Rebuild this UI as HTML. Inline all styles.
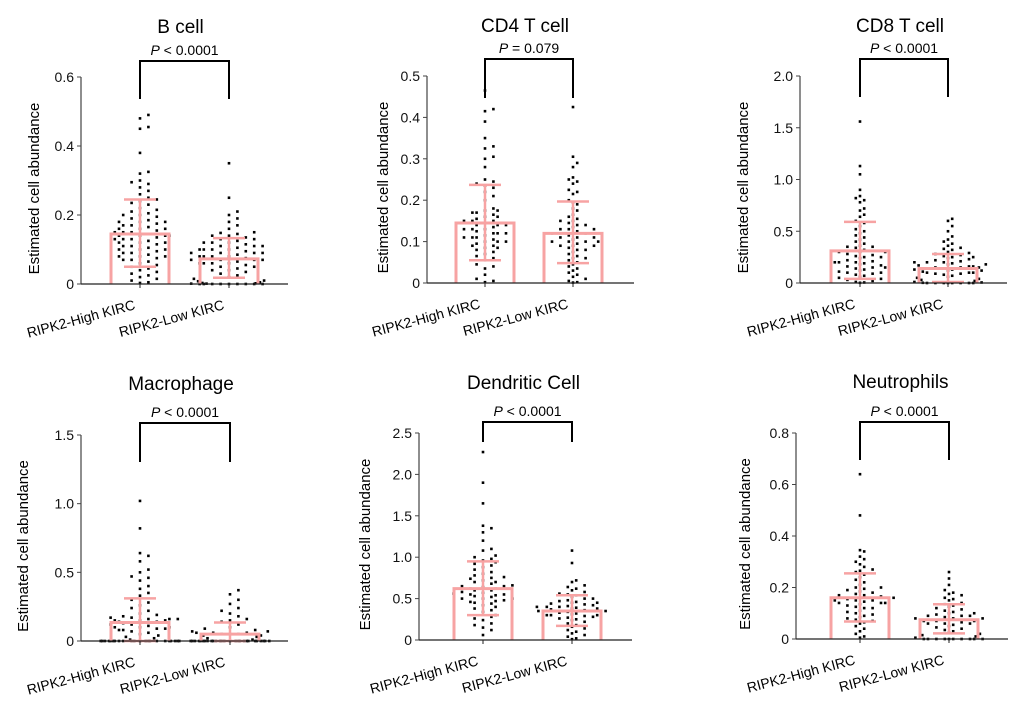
<!DOCTYPE html>
<html><head><meta charset="utf-8">
<style>
html,body{margin:0;padding:0;background:#fff;}
svg{display:block;font-family:"Liberation Sans",Arial,sans-serif;}
</style></head>
<body>
<svg id="fig" width="1020" height="715" viewBox="0 0 1020 715" xmlns="http://www.w3.org/2000/svg"></svg>
<script>
const categories = ["RIPK2-High KIRC", "RIPK2-Low KIRC"];
const panelTitles = ["B cell","CD4 T cell","CD8 T cell","Macrophage","Dendritic Cell","Neutrophils"];
const pLabels = ["< 0.0001","= 0.079","< 0.0001","< 0.0001","< 0.0001","< 0.0001"];
const yMaxes = [0.6, 0.5, 2.0, 1.5, 2.5, 0.8];
const tickLabels = [
  ["0","0.2","0.4","0.6"],
  ["0","0.1","0.2","0.3","0.4","0.5"],
  ["0","0.5","1.0","1.5","2.0"],
  ["0","0.5","1.0","1.5"],
  ["0","0.5","1.0","1.5","2.0","2.5"],
  ["0","0.2","0.4","0.6","0.8"]
];
const tickValues = [
  [0,0.2,0.4,0.6],[0,0.1,0.2,0.3,0.4,0.5],[0,0.5,1,1.5,2],[0,0.5,1,1.5],[0,0.5,1,1.5,2,2.5],[0,0.2,0.4,0.6,0.8]
];
const means = [[0.145,0.073],[0.145,0.12],[0.31,0.14],[0.135,0.05],[0.62,0.35],[0.16,0.075]];
const sdUpper = [[0.245,0.133],[0.237,0.197],[0.59,0.28],[0.31,0.135],[0.95,0.54],[0.255,0.135]];
const sdLower = [[0.05,0.018],[0.055,0.048],[0.04,0.01],[0,0],[0.30,0.17],[0.068,0.022]];

const bHigh=[0.49,0.48,0.455,0.45,0.38,0.325,0.32,0.30,0.295,0.29,0.28,0.27,0.26,0.25,0.245,0.24,0.235,0.23,0.22,0.215,0.21,0.205,0.2,0.195,0.19,0.185,0.18,0.18,0.175,0.17,0.17,0.165,0.16,0.16,0.155,0.15,0.15,0.15,0.145,0.14,0.14,0.14,0.135,0.13,0.13,0.125,0.12,0.12,0.115,0.11,0.11,0.105,0.1,0.1,0.095,0.09,0.09,0.085,0.08,0.08,0.075,0.07,0.07,0.065,0.06,0.055,0.05,0.045,0.04,0.035,0.03,0.025,0.02,0.015,0.01,0.005,0.003,0.14,0.13,0.12,0.1,0.08,0.16,0.18,0.2];
const bLow=[0.35,0.25,0.21,0.2,0.19,0.18,0.17,0.16,0.15,0.148,0.145,0.14,0.14,0.135,0.13,0.13,0.125,0.12,0.12,0.115,0.11,0.11,0.105,0.1,0.1,0.1,0.095,0.09,0.09,0.09,0.085,0.08,0.08,0.08,0.075,0.07,0.07,0.07,0.065,0.06,0.06,0.06,0.055,0.05,0.05,0.045,0.04,0.04,0.035,0.03,0.025,0.02,0.015,0.01,0.008,0.005,0.003,0.002,0.001,0.001,0,0,0,0,0,0,0,0,0,0.1,0.09,0.08,0.07,0.06,0.11,0.12];
const cd4High=[0.465,0.42,0.415,0.39,0.35,0.33,0.325,0.305,0.3,0.28,0.25,0.245,0.24,0.235,0.23,0.22,0.21,0.2,0.18,0.175,0.175,0.17,0.17,0.165,0.16,0.155,0.15,0.15,0.145,0.14,0.14,0.14,0.135,0.13,0.13,0.125,0.12,0.12,0.115,0.11,0.11,0.105,0.1,0.1,0.1,0.095,0.09,0.09,0.085,0.085,0.08,0.075,0.07,0.065,0.06,0.055,0.045,0.04,0.035,0.02,0.01,0.005,0.002,0.13,0.12,0.16,0.15,0.11];
const cd4Low=[0.425,0.305,0.29,0.28,0.255,0.25,0.245,0.24,0.225,0.22,0.215,0.2,0.195,0.19,0.18,0.175,0.165,0.16,0.155,0.15,0.15,0.145,0.14,0.135,0.13,0.13,0.125,0.12,0.12,0.115,0.11,0.11,0.105,0.1,0.1,0.1,0.095,0.09,0.09,0.085,0.08,0.08,0.075,0.07,0.065,0.06,0.06,0.055,0.05,0.045,0.04,0.035,0.03,0.025,0.02,0.015,0.01,0.005,0.002,0.001,0.11,0.12,0.13,0.14,0.1,0.09];
const cd8High=[1.56,1.13,1.05,0.9,0.84,0.82,0.8,0.78,0.72,0.7,0.66,0.64,0.6,0.58,0.55,0.52,0.5,0.48,0.46,0.44,0.42,0.4,0.38,0.36,0.35,0.34,0.32,0.3,0.3,0.28,0.27,0.26,0.25,0.24,0.22,0.21,0.2,0.2,0.19,0.18,0.17,0.16,0.15,0.14,0.13,0.12,0.11,0.1,0.09,0.08,0.07,0.06,0.05,0.04,0.03,0.02,0.01,0.005,0.002,0.2,0.25,0.3,0.15,0.1,0.35];
const cd8Low=[0.62,0.6,0.55,0.5,0.45,0.42,0.4,0.38,0.36,0.34,0.33,0.32,0.3,0.29,0.28,0.27,0.26,0.25,0.24,0.23,0.22,0.21,0.2,0.2,0.19,0.18,0.18,0.17,0.16,0.16,0.15,0.15,0.14,0.13,0.13,0.12,0.12,0.11,0.1,0.1,0.09,0.09,0.08,0.07,0.06,0.05,0.04,0.03,0.02,0.01,0.005,0.002,0,0,0,0,0,0,0,0,0.15,0.2,0.1,0.25,0.14];
const macHigh=[1.02,0.82,0.64,0.62,0.58,0.52,0.5,0.47,0.46,0.44,0.4,0.38,0.35,0.33,0.3,0.28,0.26,0.24,0.22,0.2,0.19,0.18,0.17,0.17,0.16,0.16,0.15,0.15,0.14,0.14,0.13,0.12,0.12,0.11,0.1,0.1,0.09,0.09,0.08,0.08,0.07,0.06,0.05,0.04,0.03,0.02,0.01,0,0,0,0,0,0,0,0,0,0,0,0,0,0,0,0,0,0,0,0,0,0,0,0.15,0.16,0.1];
const macLow=[0.37,0.34,0.3,0.27,0.24,0.22,0.2,0.18,0.16,0.15,0.14,0.12,0.1,0.09,0.08,0.07,0.07,0.06,0.06,0.05,0.05,0.04,0.04,0.03,0.02,0.01,0,0,0,0,0,0,0,0,0,0,0,0,0,0,0,0,0,0,0,0,0,0,0,0,0,0,0,0,0.06,0.05];
const dcHigh=[2.27,1.9,1.65,1.38,1.35,1.3,1.2,1.1,1.08,1.02,1.0,0.98,0.96,0.94,0.92,0.9,0.88,0.85,0.82,0.8,0.78,0.76,0.74,0.72,0.7,0.68,0.66,0.65,0.64,0.62,0.6,0.6,0.58,0.57,0.56,0.55,0.54,0.53,0.52,0.5,0.5,0.48,0.47,0.46,0.45,0.44,0.42,0.4,0.38,0.36,0.34,0.3,0.28,0.26,0.24,0.2,0.18,0.15,0.12,0.06,0.62,0.7,0.55,0.65,0.5,0.75];
const dcLow=[1.08,0.93,0.72,0.7,0.66,0.64,0.62,0.6,0.58,0.56,0.55,0.54,0.52,0.5,0.5,0.48,0.47,0.46,0.45,0.44,0.43,0.42,0.41,0.4,0.4,0.39,0.38,0.37,0.36,0.35,0.35,0.34,0.33,0.32,0.31,0.3,0.3,0.29,0.28,0.27,0.26,0.25,0.24,0.22,0.2,0.18,0.16,0.14,0.12,0.1,0.08,0.06,0.04,0.02,0.01,0.35,0.4,0.3,0.45,0.38];
const neuHigh=[0.64,0.48,0.345,0.34,0.32,0.31,0.3,0.29,0.28,0.27,0.265,0.26,0.25,0.24,0.23,0.22,0.21,0.2,0.2,0.195,0.19,0.185,0.18,0.175,0.17,0.165,0.16,0.155,0.15,0.15,0.145,0.14,0.14,0.135,0.13,0.125,0.12,0.11,0.105,0.1,0.095,0.09,0.085,0.08,0.075,0.07,0.065,0.06,0.05,0.04,0.03,0.02,0.01,0.005,0.15,0.16,0.17,0.14,0.12];
const neuLow=[0.26,0.235,0.21,0.19,0.18,0.175,0.17,0.16,0.155,0.15,0.14,0.135,0.13,0.125,0.12,0.115,0.11,0.105,0.1,0.1,0.095,0.09,0.09,0.085,0.08,0.08,0.075,0.07,0.07,0.065,0.06,0.06,0.055,0.05,0.045,0.04,0.035,0.03,0.025,0.02,0.015,0.01,0.005,0,0,0,0,0,0,0,0,0,0,0.08,0.07,0.09,0.06];
const seriesValues = [[bHigh,bLow],[cd4High,cd4Low],[cd8High,cd8Low],[macHigh,macLow],[dcHigh,dcLow],[neuHigh,neuLow]];

// layout (pixel geometry, not data)
const layout = [
  {ax:81, y0:284, yTop:77, g:[140,229], xEnd:288, lab:33, bt:223, bl:185},
  {ax:427, y0:283, yTop:76, g:[485,573], xEnd:634, lab:382, bt:224, bl:185},
  {ax:800, y0:283, yTop:76, g:[860,948], xEnd:1007, lab:742, bt:224, bl:186},
  {ax:81, y0:641, yTop:435, g:[140,230], xEnd:288, lab:22, bt:218, bl:179},
  {ax:419, y0:640, yTop:433, g:[483,572], xEnd:632, lab:364, bt:218, bl:198},
  {ax:796, y0:639, yTop:433, g:[860,949], xEnd:1008, lab:744, bt:217, bl:179}
];
const NS="http://www.w3.org/2000/svg";
const svg=document.getElementById('fig');
function mk(tag, attrs, parent){const e=document.createElementNS(NS,tag);for(const k in attrs)e.setAttribute(k,attrs[k]);(parent||svg).appendChild(e);return e;}
const PINK="#f7a3a3";

layout.forEach((L,pi)=>{
  const g=mk('g',{});
  
  
  const yS=v=>L.y0-(v/yMaxes[pi])*(L.y0-L.yTop);
  const mid=(L.g[0]+L.g[1])/2;
  const t=mk('text',{x:mid-4,y:L.y0-251,'text-anchor':'middle','font-size':19,fill:'#000'},g);
  t.textContent=panelTitles[pi];
  
  
  const p=mk('text',{x:mid,y:L.y0-L.bt-6,'text-anchor':'middle','font-size':14,fill:'#000'},g);
  p.innerHTML='<tspan font-style="italic">P</tspan> '+pLabels[pi];
  
  
  const br=mk('path',{d:`M${L.g[0]} ${L.y0-L.bl} V${L.y0-L.bt} H${L.g[1]} V${L.y0-L.bl}`,fill:'none',stroke:'#000','stroke-width':2},g);
  
  
  const ya=mk('line',{x1:L.ax,x2:L.ax,y1:L.yTop,y2:L.y0,stroke:'#444','stroke-width':1.2},g);
  
  
  tickValues[pi].forEach((v,i)=>{
    const y=yS(v);
    mk('line',{x1:L.ax-4,x2:L.ax,y1:y,y2:y,stroke:'#444','stroke-width':1},g);
    const tl=mk('text',{x:L.ax-7,y:y+5,'text-anchor':'end','font-size':14,fill:'#111'},g);
    tl.textContent=tickLabels[pi][i];
    
    
  });
  const yt=mk('text',{x:0,y:0,'text-anchor':'middle','font-size':15,fill:'#000',transform:`translate(${L.lab+6},${(L.y0+L.yTop)/2+8}) rotate(-90)`},g);
  yt.textContent='Estimated cell abundance';
  
  
  seriesValues[pi].forEach((vals,gi)=>{
    const cx=L.g[gi];
    const placed=[];
    const sorted=vals.slice().sort((a,b)=>a-b);
    const dx=4.2, dy=5.5, maxK=18; // max offset ~ ±38px
    sorted.forEach(v=>{
      const y=yS(v);
      let off=0,k=0,found=false;
      for(k=0;k<=maxK;k++){
        off=(k===0)?0:((k%2)?1:-1)*Math.ceil(k/2)*dx;
        if(!placed.some(q=>Math.abs(q[1]-y)<dy && Math.abs(q[0]-(cx+off))<dx)){found=true;break;}
      }
      if(!found){ const kk=placed.length%(maxK+1); off=(kk===0)?0:((kk%2)?1:-1)*Math.ceil(kk/2)*dx+ (kk%2?1.5:-1.5); }
      placed.push([cx+off,y]);
      const c=mk('rect',{x:cx+off-1.3,y:y-1.3,width:2.6,height:2.6,fill:'#000'},g);
      
      
    });
  });
  [0,1].forEach(gi=>{
    const cx=L.g[gi], w=58;
    const ym=yS(means[pi][gi]);
    const bar=mk('path',{d:`M${cx-w/2} ${L.y0} V${ym} H${cx+w/2} V${L.y0}`,fill:'none',stroke:PINK,'stroke-width':3},g);
    
    
    const yu=yS(sdUpper[pi][gi]), yl=yS(sdLower[pi][gi]);
    const eb=mk('path',{d:`M${cx} ${yu} V${yl} M${cx-16} ${yu} H${cx+16} M${cx-16} ${yl} H${cx+16}`,fill:'none',stroke:PINK,'stroke-width':2.5},g);
    
    
  });
  const xa=mk('line',{x1:L.ax,x2:L.xEnd,y1:L.y0,y2:L.y0,stroke:'#222','stroke-width':1.3},g);
  
  
  categories.forEach((c,gi)=>{
    const cx=L.g[gi];
    mk('line',{x1:cx,x2:cx,y1:L.y0,y2:L.y0+4,stroke:'#222','stroke-width':1},g);
    const xl=mk('text',{x:0,y:0,'text-anchor':'end','font-size':14,fill:'#000',transform:`translate(${cx-4},${L.y0+25}) rotate(-15)`},g);
    xl.textContent=c;
    
    
  });
});
</script>
</body></html>
